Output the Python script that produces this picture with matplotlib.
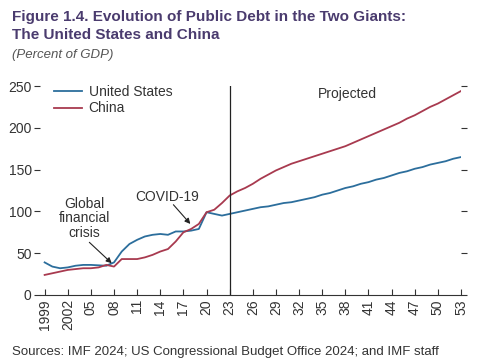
import matplotlib
matplotlib.use("Agg")
import matplotlib.pyplot as plt

years = list(range(1999, 2054))
us = [39, 34, 32, 33, 35, 36, 36, 35.5, 35, 39, 52, 61, 66, 70, 72, 73, 72, 76, 76, 77, 79, 99, 97, 95, 97,
      99, 101, 103, 105, 106, 108, 110, 111, 113, 115, 117, 120, 122, 125, 128, 130, 133, 135, 138, 140,
      143, 146, 148, 151, 153, 156, 158, 160, 163, 165]
china = [24, 26, 28, 30, 31, 32, 32, 33, 36, 34, 43, 43, 43, 45, 48, 52, 55, 64, 75, 79, 85, 99, 102, 110, 119,
         124, 128, 133, 139, 144, 149, 153, 157, 160, 163, 166, 169, 172, 175, 178, 182, 186, 190, 194, 198,
         202, 206, 211, 215, 220, 225, 229, 234, 239, 244]
xtick_years = list(range(1999, 2054, 3))
xtick_labels = ["1999", "2002"] + ["%02d" % (y % 100) for y in xtick_years[2:]]
yticks = [0, 50, 100, 150, 200, 250]

plt.rcParams['font.family'] = ["Liberation Sans", "DejaVu Sans"]

us_color = "#2c6e9c"
cn_color = "#a83a4f"
txt = "#333333"

fig = plt.figure(figsize=(4.85, 3.6), dpi=100)
ax = fig.add_axes([40/485, 1-295/360, (461-40)/485, (295-86)/360])

ax.plot(years, us, color=us_color, lw=1.3, label="United States")
ax.plot(years, china, color=cn_color, lw=1.3, label="China")
ax.axvline(2023, color="#222222", lw=0.9, ymax=1.0)

ax.set_xlim(1998.4, 2053.0)
ax.set_ylim(0, 250)
for s in ["top", "left", "right"]:
    ax.spines[s].set_visible(False)
ax.spines["bottom"].set_color("#333333")
ax.spines["bottom"].set_linewidth(0.8)

ax.set_xticks(xtick_years)
ax.set_xticklabels(xtick_labels, rotation=90, fontsize=10, color=txt)
ax.tick_params(axis="x", direction="in", length=4, width=0.8, color="#333333", pad=3)
ax.set_yticks(yticks)
ax.set_yticklabels([str(v) for v in yticks], fontsize=10, color=txt)
ax.tick_params(axis="y", direction="out", length=4, width=0.8, color="#333333", pad=2,
               left=True, right=True, labelright=False)

leg = ax.legend(loc="upper left", bbox_to_anchor=(0.02, 1.03), frameon=False, fontsize=10,
                handlelength=2.0, handletextpad=0.5, labelspacing=0.15, borderaxespad=0)
for t in leg.get_texts():
    t.set_color(txt)

ax.text(2038.2, 240, "Projected", ha="center", va="center", fontsize=10, color=txt)

ax.text(2004.2, 92, "Global\nfinancial\ncrisis", ha="center", va="center", fontsize=10,
        color=txt, linespacing=1.05)
ax.annotate("", xy=(2007.7, 38), xytext=(2004.8, 63),
            arrowprops=dict(arrowstyle="-|>", color="#222222", lw=0.8, mutation_scale=8,
                            shrinkA=0, shrinkB=0))
ax.text(2014.9, 117, "COVID-19", ha="center", va="center", fontsize=10, color=txt)
ax.annotate("", xy=(2017.9, 85), xytext=(2015.7, 108),
            arrowprops=dict(arrowstyle="-|>", color="#222222", lw=0.8, mutation_scale=8,
                            shrinkA=0, shrinkB=0))

fig.text(12/485, 1-26/360, "Figure 1.4. Evolution of Public Debt in the Two Giants:\nThe United States and China",
         ha="left", va="center", fontsize=11, fontweight="bold", color="#4a3b6e", linespacing=1.45)
fig.text(12/485, 1-55/360, "(Percent of GDP)", ha="left", va="center", fontsize=9.5,
         style="italic", color="#555555")
fig.text(12/485, 1-358/360, "Sources: IMF 2024; US Congressional Budget Office 2024; and IMF staff",
         ha="left", va="bottom", fontsize=9.5, color=txt)

fig.savefig("out.png", dpi=100, facecolor="white")
